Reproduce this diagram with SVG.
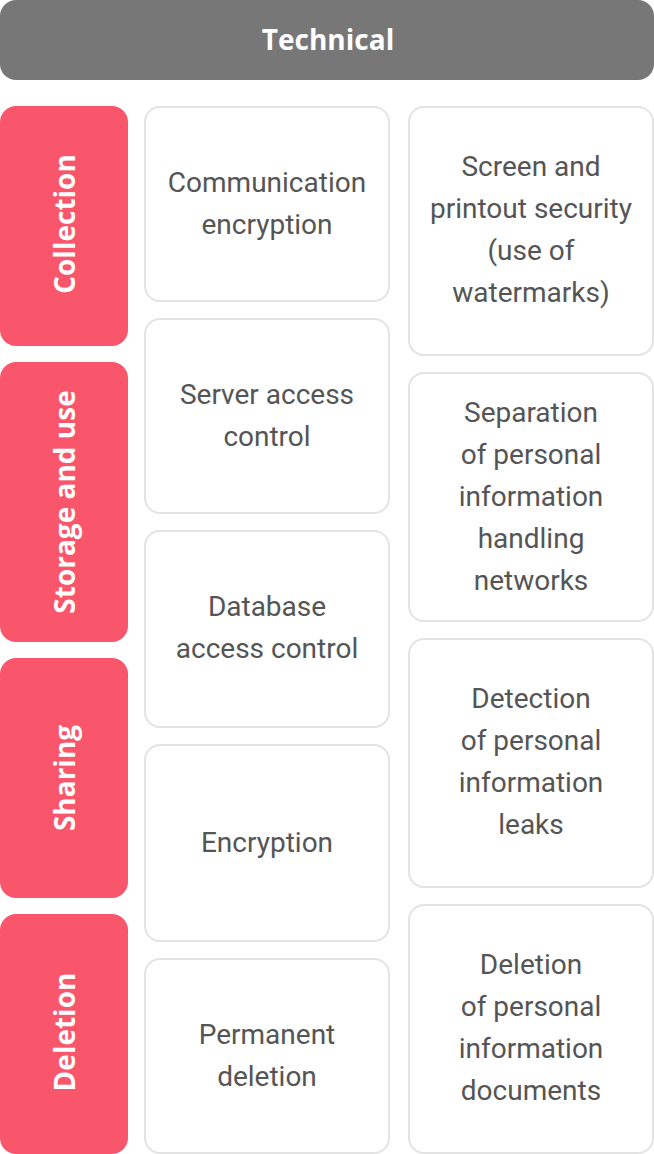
<svg xmlns="http://www.w3.org/2000/svg" width="654" height="1154" viewBox="0 0 654 1154">
<style>
.hdr{fill:#777777}
.cat{fill:#F9566B}
.box{fill:#ffffff;stroke:#e3e3e3;stroke-width:2}
.t{font-family:Roboto,"Liberation Sans",sans-serif;font-size:28px;fill:#555555;text-anchor:middle}
.ct{font-family:"Open Sans","Noto Sans",sans-serif;font-weight:bold;font-size:28px;fill:#ffffff;text-anchor:middle}
</style>
<rect width="654" height="1154" fill="#ffffff"/>
<g id="header"><rect class="hdr" x="0" y="0" width="654" height="80" rx="16"/><text class="ct" x="328" y="50">Technical</text></g>
<g id="cat-collection"><rect class="cat" x="0" y="106" width="128" height="240" rx="16"/><text class="ct" transform="translate(75,224) rotate(-90)" x="0" y="0">Collection</text></g>
<g id="cat-storage"><rect class="cat" x="0" y="362" width="128" height="280" rx="16"/><text class="ct" transform="translate(75,502) rotate(-90)" x="0" y="0">Storage and use</text></g>
<g id="cat-sharing"><rect class="cat" x="0" y="658" width="128" height="240" rx="16"/><text class="ct" transform="translate(75,778) rotate(-90)" x="0" y="0">Sharing</text></g>
<g id="cat-deletion"><rect class="cat" x="0" y="914" width="128" height="240" rx="16"/><text class="ct" transform="translate(75,1032) rotate(-90)" x="0" y="0">Deletion</text></g>
<g id="m1"><rect class="box" x="145" y="107" width="244" height="194" rx="15"/><text class="t" x="267" y="192">Communication</text><text class="t" x="267" y="234">encryption</text></g>
<g id="m2"><rect class="box" x="145" y="319" width="244" height="194" rx="15"/><text class="t" x="267" y="404">Server access</text><text class="t" x="267" y="446">control</text></g>
<g id="m3"><rect class="box" x="145" y="531" width="244" height="196" rx="15"/><text class="t" x="267" y="616">Database</text><text class="t" x="267" y="658">access control</text></g>
<g id="m4"><rect class="box" x="145" y="745" width="244" height="196" rx="15"/><text class="t" x="267" y="852">Encryption</text></g>
<g id="m5"><rect class="box" x="145" y="959" width="244" height="194" rx="15"/><text class="t" x="267" y="1044">Permanent</text><text class="t" x="267" y="1086">deletion</text></g>
<g id="r1"><rect class="box" x="409" y="107" width="244" height="248" rx="15"/><text class="t" x="531" y="176">Screen and</text><text class="t" x="531" y="218">printout security</text><text class="t" x="531" y="260">(use of</text><text class="t" x="531" y="302">watermarks)</text></g>
<g id="r2"><rect class="box" x="409" y="373" width="244" height="248" rx="15"/><text class="t" x="531" y="422">Separation</text><text class="t" x="531" y="464">of personal</text><text class="t" x="531" y="506">information</text><text class="t" x="531" y="548">handling</text><text class="t" x="531" y="590">networks</text></g>
<g id="r3"><rect class="box" x="409" y="639" width="244" height="248" rx="15"/><text class="t" x="531" y="708">Detection</text><text class="t" x="531" y="750">of personal</text><text class="t" x="531" y="792">information</text><text class="t" x="531" y="834">leaks</text></g>
<g id="r4"><rect class="box" x="409" y="905" width="244" height="248" rx="15"/><text class="t" x="531" y="974">Deletion</text><text class="t" x="531" y="1016">of personal</text><text class="t" x="531" y="1058">information</text><text class="t" x="531" y="1100">documents</text></g>
<g id="connectors"/>
</svg>
